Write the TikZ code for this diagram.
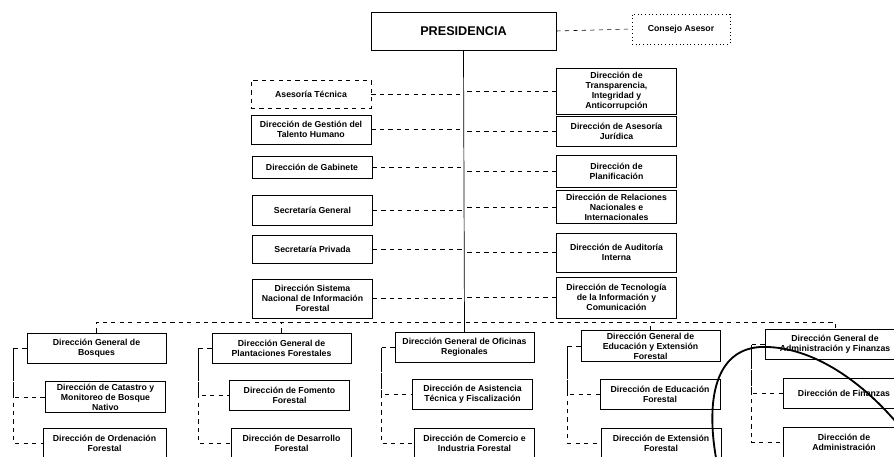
\documentclass[tikz,border=0pt]{standalone}
\usepackage{fontspec}
\setsansfont{Liberation Sans}
\usepackage{tikz}
\usetikzlibrary{positioning}

\begin{document}
\begin{tikzpicture}[
  x=0.025cm, y=-0.025cm,
  unitbox/.style={draw, line width=0.6pt, align=center, inner sep=1.5pt,
                  font=\sffamily\bfseries\fontsize{6.2}{7.2}\selectfont},
  staffbox/.style={unitbox, minimum width=3.0cm},
  dgbox/.style={unitbox, minimum width=3.475cm, minimum height=0.75cm},
  subbox/.style={unitbox, minimum width=3.0cm, minimum height=0.75cm},
  link/.style={draw, line width=0.4pt, dashed},
  spine/.style={draw, line width=0.5pt},
]
  \useasboundingbox (0,0) rectangle (894,456);

  % --- Top ---
  \node[unitbox, minimum width=4.625cm, minimum height=0.95cm,
        font=\sffamily\bfseries\fontsize{9}{10}\selectfont]
        (pres) at (463.5,31) {PRESIDENCIA};
  \node[unitbox, dotted, line width=0.4pt, minimum width=2.45cm, minimum height=0.75cm]
        (consejo) at (681,29) {Consejo Asesor};

  % --- Staff units, left column ---
  \node[staffbox, dashed, minimum height=0.7cm] (asetec) at (311,94) {Asesoría Técnica};
  \node[staffbox, minimum height=0.725cm] (talento) at (311,129.5)
    {Dirección de Gestión del\\Talento Humano};
  \node[staffbox, minimum height=0.55cm] (gabinete) at (312,167.5) {Dirección de Gabinete};
  \node[staffbox, minimum height=0.75cm] (secgen) at (312.5,210) {Secretaría General};
  \node[staffbox, minimum height=0.7cm] (secpriv) at (312.5,249) {Secretaría Privada};
  \node[staffbox, minimum height=0.975cm] (sinafor) at (312.5,298.5)
    {Dirección Sistema\\Nacional de Información\\Forestal};

  % --- Staff units, right column ---
  \node[staffbox, minimum height=1.15cm] (transp) at (616.5,91)
    {Dirección de\\Transparencia,\\Integridad y\\Anticorrupción};
  \node[staffbox, minimum height=0.75cm] (juridica) at (616.5,131)
    {Dirección de Asesoría\\Jurídica};
  \node[staffbox, minimum height=0.8cm] (planif) at (616.5,171)
    {Dirección de\\Planificación};
  \node[staffbox, minimum height=0.825cm] (relac) at (616.5,207)
    {Dirección de Relaciones\\Nacionales e\\Internacionales};
  \node[staffbox, minimum height=0.975cm] (audit) at (616.5,252.5)
    {Dirección de Auditoría\\Interna};
  \node[staffbox, minimum height=1.025cm] (tecno) at (616.5,297.5)
    {Dirección de Tecnología\\de la Información y\\Comunicación};

  % --- Line units (general directorates and their directorates) ---
  \node[dgbox] (dgbosq) at (96.5,348) {Dirección General de\\Bosques};
  \node[subbox] (catastro) at (105.5,397)
    {Dirección de Catastro y\\Monitoreo de Bosque\\Nativo};
  \node[subbox, minimum width=3.075cm] (ordenac) at (104.5,443)
    {Dirección de Ordenación\\Forestal};

  \node[dgbox] (dgplant) at (281.5,348) {Dirección General de\\Plantaciones Forestales};
  \node[subbox] (fomento) at (289.5,395.5) {Dirección de Fomento\\Forestal};
  \node[subbox] (desarr) at (291.5,443) {Dirección de Desarrollo\\Forestal};

  \node[dgbox] (dgofic) at (464.5,347.5) {Dirección General de Oficinas\\Regionales};
  \node[subbox] (asist) at (472.5,394.5) {Dirección de Asistencia\\Técnica y Fiscalización};
  \node[subbox] (comerc) at (474.5,443) {Dirección de Comercio e\\Industria Forestal};

  \node[dgbox] (dgeduc) at (650.5,346)
    {Dirección General de\\Educación y Extensión\\Forestal};
  \node[subbox] (educ) at (660,394) {Dirección de Educación\\Forestal};
  \node[subbox] (exten) at (661,443) {Dirección de Extensión\\Forestal};

  \node[dgbox, minimum width=3.5cm] (dgadmin) at (835,344.5)
    {Dirección General de\\Administración y Finanzas};
  \node[subbox, minimum width=3.05cm] (finanz) at (844,393.5) {Dirección de Finanzas};
  \node[subbox, minimum width=3.05cm] (admin) at (844,442) {Dirección de\\Administración};

  % --- Spine and staff links ---
  \coordinate (bus) at (463,322);
  \draw[spine] (pres.south) -- (dgofic.north);
  \draw[link] (pres.east) -- (consejo.west);
  \foreach \unit in {asetec, talento, gabinete, secgen, secpriv, sinafor}
    \draw[link] (\unit.east) -- (\unit.east -| pres.south);
  \foreach \unit in {transp, juridica, planif, relac, audit, tecno}
    \draw[link] (\unit.west) -- (\unit.west -| pres.south);

  % --- Bus to general directorates ---
  \draw[link] (dgbosq.north) |- (bus) -| (dgadmin.north);
  \draw[link] (dgplant.north) -- (dgplant.north |- bus);
  \draw[link] (dgeduc.north) -- (dgeduc.north |- bus);

  % --- Trees below each general directorate ---
  \foreach \dg/\first/\second in {dgbosq/catastro/ordenac, dgplant/fomento/desarr,
      dgofic/asist/comerc, dgeduc/educ/exten, dgadmin/finanz/admin} {
    \draw[link] (\dg.west) -- ++(-13,0) |- (\second.west);
    \draw[link] (\dg.west) ++(-13,0) |- (\first.west);
  }

  % --- Hand-drawn stroke over the chart ---
  \draw[line width=1.3pt] (716,458) .. controls (706,400) and (715,350) .. (760,347)
    .. controls (810,345) and (860,380) .. (896,422);

\end{tikzpicture}
\end{document}
